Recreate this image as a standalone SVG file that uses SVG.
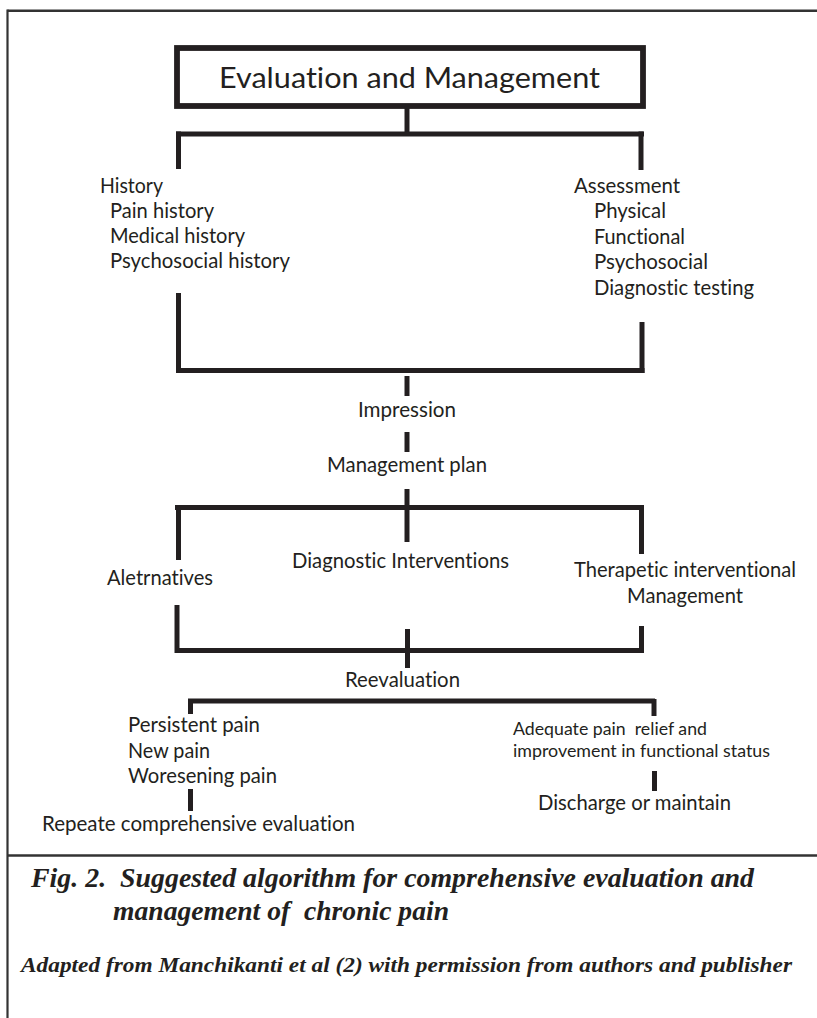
<svg xmlns="http://www.w3.org/2000/svg" width="817" height="1018" viewBox="0 0 817 1018">
<style>
  .t, .ts, .title { font-family: Lato, "Open Sans", "DejaVu Sans", sans-serif; fill: #231f20; font-variant-ligatures: none; font-feature-settings: "liga" 0, "clig" 0; }
  .t { font-size: 20.5px; }
  .ts { font-size: 18px; white-space: pre; }
  .title { font-size: 29.5px; }
  .cap { font-family: "Liberation Serif", "DejaVu Serif", serif; font-style: italic; font-weight: bold; fill: #231f20; white-space: pre; }
  .ln { stroke: #231f20; stroke-width: 5; fill: none; stroke-linecap: butt; }
  .frame { stroke: #333333; fill: none; }
</style>
<rect x="0" y="0" width="817" height="1018" fill="#ffffff"/>

<g id="frame">
  <line class="frame" x1="7.5" y1="10.7" x2="817" y2="10.7" stroke-width="2.6"/>
  <line class="frame" x1="7.5" y1="9.5" x2="7.5" y2="1018" stroke-width="2.2"/>
  <line class="frame" x1="7.5" y1="855.5" x2="817" y2="855.5" stroke-width="2.6"/>
</g>

<g id="node-title">
  <rect x="177" y="48" width="466" height="58" fill="#ffffff" stroke="#231f20" stroke-width="5.8"/>
  <text class="title" x="219" y="88" textLength="381" lengthAdjust="spacingAndGlyphs">Evaluation and Management</text>
</g>

<g id="node-history">
  <text class="t" x="100" y="193" textLength="63" lengthAdjust="spacingAndGlyphs">History</text>
  <text class="t" x="110" y="218" textLength="104" lengthAdjust="spacingAndGlyphs">Pain history</text>
  <text class="t" x="110" y="243" textLength="135" lengthAdjust="spacingAndGlyphs">Medical history</text>
  <text class="t" x="110" y="268" textLength="180" lengthAdjust="spacingAndGlyphs">Psychosocial history</text>
</g>

<g id="node-assessment">
  <text class="t" x="574" y="193" textLength="106" lengthAdjust="spacingAndGlyphs">Assessment</text>
  <text class="t" x="594" y="218" textLength="72" lengthAdjust="spacingAndGlyphs">Physical</text>
  <text class="t" x="594" y="244" textLength="91" lengthAdjust="spacingAndGlyphs">Functional</text>
  <text class="t" x="594" y="269" textLength="114" lengthAdjust="spacingAndGlyphs">Psychosocial</text>
  <text class="t" x="594" y="295" textLength="160" lengthAdjust="spacingAndGlyphs">Diagnostic testing</text>
</g>

<g id="node-impression">
  <text class="t" x="358" y="417" textLength="98" lengthAdjust="spacingAndGlyphs">Impression</text>
</g>

<g id="node-management-plan">
  <text class="t" x="327" y="472" textLength="160" lengthAdjust="spacingAndGlyphs">Management plan</text>
</g>

<g id="node-alternatives">
  <text class="t" x="107" y="585" textLength="106" lengthAdjust="spacingAndGlyphs">Aletrnatives</text>
</g>

<g id="node-diagnostic-interventions">
  <text class="t" x="292" y="568" textLength="217" lengthAdjust="spacingAndGlyphs">Diagnostic Interventions</text>
</g>

<g id="node-therapeutic">
  <text class="t" x="574" y="577" textLength="222" lengthAdjust="spacingAndGlyphs">Therapetic interventional</text>
  <text class="t" x="627" y="603" textLength="116" lengthAdjust="spacingAndGlyphs">Management</text>
</g>

<g id="node-reevaluation">
  <text class="t" x="345" y="687" textLength="115" lengthAdjust="spacingAndGlyphs">Reevaluation</text>
</g>

<g id="node-persistent">
  <text class="t" x="128" y="732" textLength="132" lengthAdjust="spacingAndGlyphs">Persistent pain</text>
  <text class="t" x="128" y="758" textLength="82" lengthAdjust="spacingAndGlyphs">New pain</text>
  <text class="t" x="128" y="783" textLength="149" lengthAdjust="spacingAndGlyphs">Woresening pain</text>
</g>

<g id="node-repeat">
  <text class="t" x="42" y="831" textLength="313" lengthAdjust="spacingAndGlyphs">Repeate comprehensive evaluation</text>
</g>

<g id="node-adequate">
  <text class="ts" x="513" y="735" textLength="194" lengthAdjust="spacingAndGlyphs">Adequate pain  relief and</text>
  <text class="ts" x="513" y="757" textLength="257" lengthAdjust="spacingAndGlyphs">improvement in functional status</text>
</g>

<g id="node-discharge">
  <text class="t" x="538" y="810" textLength="193" lengthAdjust="spacingAndGlyphs">Discharge or maintain</text>
</g>

<g id="connectors">
  <line class="ln" x1="407" y1="106" x2="407" y2="134"/>
  <line class="ln" x1="176" y1="134" x2="644" y2="134"/>
  <line class="ln" x1="178.5" y1="131.5" x2="178.5" y2="169"/>
  <line class="ln" x1="641" y1="131.5" x2="641" y2="170"/>
  <line class="ln" x1="178.5" y1="293" x2="178.5" y2="373"/>
  <line class="ln" x1="642" y1="322" x2="642" y2="373"/>
  <line class="ln" x1="176" y1="370.5" x2="644.5" y2="370.5"/>
  <line class="ln" x1="407" y1="376" x2="407" y2="396"/>
  <line class="ln" x1="407" y1="432" x2="407" y2="452"/>
  <line class="ln" x1="407" y1="489" x2="407" y2="542"/>
  <line class="ln" x1="175" y1="507.5" x2="644" y2="507.5"/>
  <line class="ln" x1="178.5" y1="505" x2="178.5" y2="560"/>
  <line class="ln" x1="641.5" y1="505" x2="641.5" y2="554"/>
  <line class="ln" x1="177" y1="605" x2="177" y2="653"/>
  <line class="ln" x1="641.5" y1="626" x2="641.5" y2="653"/>
  <line class="ln" x1="175" y1="650.5" x2="644" y2="650.5"/>
  <line class="ln" x1="407.5" y1="629" x2="407.5" y2="668"/>
  <line class="ln" x1="188" y1="701" x2="655" y2="701" stroke-width="4.2"/>
  <line class="ln" x1="190.5" y1="699" x2="190.5" y2="714"/>
  <line class="ln" x1="654" y1="699" x2="654" y2="716"/>
  <line class="ln" x1="190.5" y1="789" x2="190.5" y2="811"/>
  <line class="ln" x1="654.5" y1="771" x2="654.5" y2="791"/>
</g>

<g id="caption">
  <text class="cap" x="31" y="887" font-size="28" textLength="723" lengthAdjust="spacingAndGlyphs">Fig. 2.  Suggested algorithm for comprehensive evaluation and</text>
  <text class="cap" x="113" y="920" font-size="28" textLength="336" lengthAdjust="spacingAndGlyphs">management of  chronic pain</text>
  <text class="cap" x="21" y="972" font-size="21" textLength="771" lengthAdjust="spacingAndGlyphs">Adapted from Manchikanti et al (2) with permission from authors and publisher</text>
</g>
</svg>
